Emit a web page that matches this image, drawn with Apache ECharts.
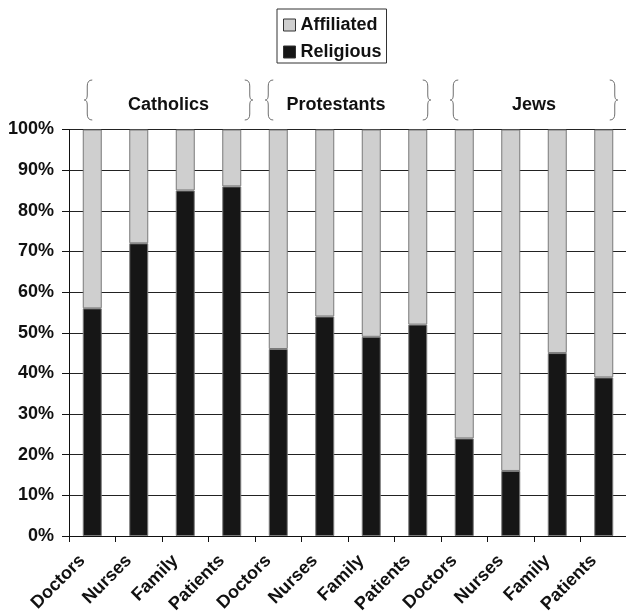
<!DOCTYPE html>
<html>
<head>
<meta charset="utf-8">
<script src="https://cdn.jsdelivr.net/npm/echarts@6/dist/echarts.min.js"></script>
<style>
  html, body { margin: 0; padding: 0; background: #fff; }
  #chart { width: 626px; height: 613px; }
</style>
</head>
<body>
<div id="chart"></div>
<script>
// Respondent roles, repeated for each faith group
const categories = [
  'Doctors', 'Nurses', 'Family', 'Patients',
  'Doctors', 'Nurses', 'Family', 'Patients',
  'Doctors', 'Nurses', 'Family', 'Patients'
];
// Faith groups and the category index range each one covers
const groupNames = ['Catholics', 'Protestants', 'Jews'];
const groupStart = [0, 4, 8];
const groupEnd = [3, 7, 11];

// Share (%) describing themselves as religious
const religious = [56, 72, 85, 86, 46, 54, 49, 52, 24, 16, 45, 39];
// Share (%) affiliated only; together the two make 100%
const affiliated = [44, 28, 15, 14, 54, 46, 51, 48, 76, 84, 55, 61];

const yTicks = { min: 0, max: 100, step: 10 };

const FONT = '"Liberation Sans", Arial, Helvetica, sans-serif';
const chart = echarts.init(document.getElementById('chart'), null, { renderer: 'canvas' });

const option = {
  animation: false,
  backgroundColor: '#ffffff',
  textStyle: { fontFamily: FONT },
  grid: {
    left: 69, top: 129.5, width: 558, bottom: 77,
    containLabel: false,
    outerBoundsMode: 'none'
  },
  legend: {
    data: ['Affiliated', 'Religious'],
    orient: 'vertical',
    left: 277,
    top: 9,
    padding: [7, 5, 2, 6],
    itemGap: 9,
    itemWidth: 12,
    itemHeight: 12,
    borderColor: '#333',
    borderWidth: 1,
    icon: 'rect',
    textStyle: { fontFamily: FONT, fontSize: 18, fontWeight: 'bold', color: '#111' },
    itemStyle: { borderColor: '#333', borderWidth: 1 }
  },
  xAxis: {
    type: 'category',
    data: categories,
    boundaryGap: true,
    axisLine: { show: true, lineStyle: { color: '#111', width: 1 } },
    axisTick: { show: true, length: 6, lineStyle: { color: '#111' } },
    axisLabel: {
      interval: 0,
      rotate: 45,
      margin: 12,
      padding: [0, 14, 0, 0],
      fontFamily: FONT,
      fontSize: 18,
      fontWeight: 'bold',
      color: '#111'
    },
    splitLine: { show: false }
  },
  yAxis: {
    type: 'value',
    min: yTicks.min,
    max: yTicks.max,
    interval: yTicks.step,
    axisLine: { show: true, lineStyle: { color: '#111', width: 1 } },
    axisTick: { show: true, length: 7, lineStyle: { color: '#111' } },
    axisLabel: {
      margin: 15,
      formatter: '{value}%',
      fontFamily: FONT,
      fontSize: 18,
      fontWeight: 'bold',
      color: '#111'
    },
    splitLine: { show: true, lineStyle: { color: '#222', width: 1 } }
  },
  series: [
    {
      name: 'Religious',
      type: 'bar',
      stack: 'share',
      barWidth: 19,
      data: religious,
      itemStyle: { color: '#161616', borderColor: '#7a7a7a', borderWidth: 1 }
    },
    {
      name: 'Affiliated',
      type: 'bar',
      stack: 'share',
      barWidth: 19,
      data: affiliated,
      itemStyle: { color: '#cfcfcf', borderColor: '#7a7a7a', borderWidth: 1 }
    }
  ]
};

chart.setOption(option);

// Curly brace made of curves and straight strokes; dir 1 = '{', -1 = '}'
const braceStyle = { stroke: '#6f6f6f', lineWidth: 1, fill: null };
function brace(x, top, bottom, dir) {
  const mid = (top + bottom) / 2;
  const w = 5 * dir;  // hook reach
  const t = 3 * dir;  // tip reach
  const curve = function (x1, y1, cx, cy, x2, y2) {
    return { type: 'bezierCurve', shape: { x1: x1, y1: y1, cpx1: cx, cpy1: cy, x2: x2, y2: y2 }, style: braceStyle };
  };
  const line = function (x1, y1, x2, y2) {
    return { type: 'line', shape: { x1: x1, y1: y1, x2: x2, y2: y2 }, style: braceStyle };
  };
  return [
    curve(x + w, top, x, top, x, top + 6),
    line(x, top + 6, x, mid - 5),
    curve(x, mid - 5, x, mid, x - t, mid),
    curve(x - t, mid, x, mid, x, mid + 5),
    line(x, mid + 5, x, bottom - 6),
    curve(x, bottom - 6, x, bottom, x + w, bottom)
  ];
}

// Group captions with braces, placed relative to the category axis
const braceTop = 80, braceBottom = 120, labelY = 105;
const braceLeftOffset = [-5, -10, -11];
const braceRightOffset = [18, 10, 11];
const labelShift = [0, -12, 0];
let graphics = [];
groupNames.forEach(function (name, i) {
  const x0 = chart.convertToPixel({ xAxisIndex: 0 }, groupStart[i]) + braceLeftOffset[i];
  const x1 = chart.convertToPixel({ xAxisIndex: 0 }, groupEnd[i]) + braceRightOffset[i];
  graphics = graphics.concat(brace(x0, braceTop, braceBottom, 1));
  graphics = graphics.concat(brace(x1, braceTop, braceBottom, -1));
  graphics.push({
    type: 'text',
    x: (x0 + x1) / 2 + labelShift[i],
    y: labelY,
    style: {
      text: name,
      fill: '#111',
      font: 'bold 18px ' + FONT,
      textAlign: 'center',
      textVerticalAlign: 'middle'
    }
  });
});
chart.setOption({ graphic: graphics });
</script>
</body>
</html>
